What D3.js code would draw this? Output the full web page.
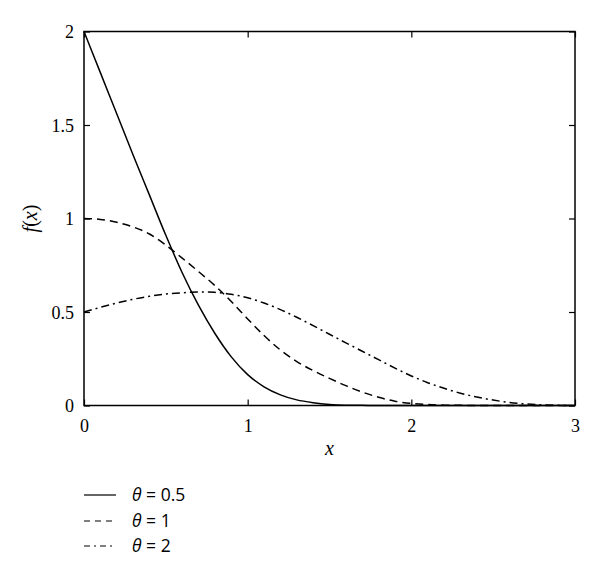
<!DOCTYPE html>
<html>
<head>
<meta charset="utf-8">
<script src="https://d3js.org/d3.v7.min.js"></script>
<style>
  body { margin: 0; background: #fff; }
  .tick text { font-family: "Liberation Serif", "DejaVu Serif", serif; font-size: 18px; }
  .legend text { font-family: "Open Sans", "Noto Sans", sans-serif; font-size: 17.5px; }
</style>
</head>
<body>
<svg id="chart" width="600" height="580"></svg>
<script>
// x positions the curves were read at
var xs = [0, 0.1, 0.2, 0.3, 0.4, 0.5, 0.6, 0.7, 0.8, 0.9, 1.0,
          1.1, 1.2, 1.3, 1.4, 1.5, 1.6, 1.7, 1.8, 1.9, 2.0,
          2.1, 2.2, 2.3, 2.4, 2.5, 2.6, 2.7, 2.8, 2.9, 3.0];

// theta = 0.5 (solid)
var theta05 = [2.0, 1.78, 1.56, 1.34, 1.125, 0.91, 0.71, 0.535, 0.385, 0.26, 0.165,
               0.10, 0.057, 0.03, 0.015, 0.006, 0.002, 0.001, 0, 0, 0,
               0, 0, 0, 0, 0, 0, 0, 0, 0, 0];
// theta = 1 (dashed)
var theta1 = [1.0, 0.995, 0.98, 0.955, 0.917, 0.858, 0.788, 0.716, 0.641, 0.556, 0.463,
              0.374, 0.297, 0.235, 0.187, 0.145, 0.106, 0.072, 0.044, 0.023, 0.011,
              0.005, 0.002, 0.001, 0, 0, 0, 0, 0, 0, 0];
// theta = 2 (dash-dot)
var theta2 = [0.5, 0.525, 0.548, 0.568, 0.584, 0.596, 0.603, 0.607, 0.605, 0.595, 0.576,
              0.548, 0.513, 0.472, 0.427, 0.381, 0.335, 0.29, 0.245, 0.2, 0.158,
              0.122, 0.092, 0.066, 0.045, 0.029, 0.016, 0.008, 0.003, 0.001, 0];

var xTicks = [0, 1, 2, 3];
var yTicks = [0, 0.5, 1, 1.5, 2];
var seriesNames = ["\u03b8 = 0.5", "\u03b8 = 1", "\u03b8 = 2"];
var dashes = [null, "8,5", "8,4,2,4"];

// plot box ("top" is a window global, so pTop etc.)
var pLeft = 84, pRight = 575, pTop = 31.5, pBottom = 405.5;

var svg = d3.select("#chart");

var x = d3.scaleLinear().domain([0, 3]).range([pLeft, pRight]);
var y = d3.scaleLinear().domain([0, 2]).range([pBottom, pTop]);

// box around plot
svg.append("rect")
    .attr("x", pLeft).attr("y", pTop)
    .attr("width", pRight - pLeft).attr("height", pBottom - pTop)
    .attr("fill", "none").attr("stroke", "#000").attr("stroke-width", 1.5);

// axes with inward ticks on all four sides
var xAxis = svg.append("g").attr("transform", "translate(0," + pBottom + ")")
    .call(d3.axisBottom(x).tickValues(xTicks).tickSizeInner(-6).tickSizeOuter(0).tickPadding(10)
        .tickFormat(d3.format("d")));
var yAxis = svg.append("g").attr("transform", "translate(" + pLeft + ",0)")
    .call(d3.axisLeft(y).tickValues(yTicks).tickSizeInner(-6).tickSizeOuter(0).tickPadding(10)
        .tickFormat(function(d) { return String(d); }));
var xTop = svg.append("g").attr("transform", "translate(0," + pTop + ")")
    .call(d3.axisTop(x).tickValues(xTicks).tickSizeInner(-6).tickSizeOuter(0).tickFormat(""));
var yRight = svg.append("g").attr("transform", "translate(" + pRight + ",0)")
    .call(d3.axisRight(y).tickValues(yTicks).tickSizeInner(-6).tickSizeOuter(0).tickFormat(""));

[xAxis, yAxis, xTop, yRight].forEach(function(a) {
    a.select(".domain").remove();
    a.selectAll(".tick line").attr("stroke", "#000").attr("stroke-width", 1.2);
    a.selectAll(".tick text").attr("fill", "#000");
});
xAxis.selectAll(".tick text").attr("dy", "0.9em");
yAxis.selectAll(".tick text").attr("dy", "0.35em");

// axis titles
svg.append("text")
    .attr("x", (pLeft + pRight) / 2).attr("y", 455)
    .attr("text-anchor", "middle")
    .style("font-family", "'Liberation Serif', serif").style("font-style", "italic").style("font-size", "20px")
    .text("x");

var yl = svg.append("text")
    .attr("transform", "translate(37," + ((pTop + pBottom) / 2) + ") rotate(-90)")
    .attr("text-anchor", "middle")
    .style("font-family", "'Liberation Serif', serif").style("font-size", "20px");
yl.append("tspan").style("font-style", "italic").text("f");
yl.append("tspan").text("(");
yl.append("tspan").style("font-style", "italic").text("x");
yl.append("tspan").text(")");

// curves
var line = d3.line()
    .x(function(d) { return x(d[0]); })
    .y(function(d) { return y(d[1]); })
    .curve(d3.curveMonotoneX);

[theta05, theta1, theta2].forEach(function(s, i) {
    var pts = xs.map(function(v, j) { return [v, s[j]]; });
    svg.append("path")
        .datum(pts)
        .attr("d", line)
        .attr("fill", "none")
        .attr("stroke", "#000")
        .attr("stroke-width", 1.5)
        .attr("stroke-dasharray", dashes[i]);
});

// legend
var legend = svg.append("g").attr("class", "legend");
var rows = [495, 521, 546];
seriesNames.forEach(function(name, i) {
    legend.append("line")
        .attr("x1", 84).attr("x2", 116)
        .attr("y1", rows[i]).attr("y2", rows[i])
        .attr("stroke", "#000").attr("stroke-width", 1.2)
        .attr("stroke-dasharray", i === 1 ? "6,5" : (i === 2 ? "6,4,2,4" : null));
    var t = legend.append("text").attr("x", 132).attr("y", rows[i] + 6);
    t.append("tspan").style("font-style", "italic").text(name.slice(0, 1));
    t.append("tspan").text(name.slice(1));
});
</script>
</body>
</html>
